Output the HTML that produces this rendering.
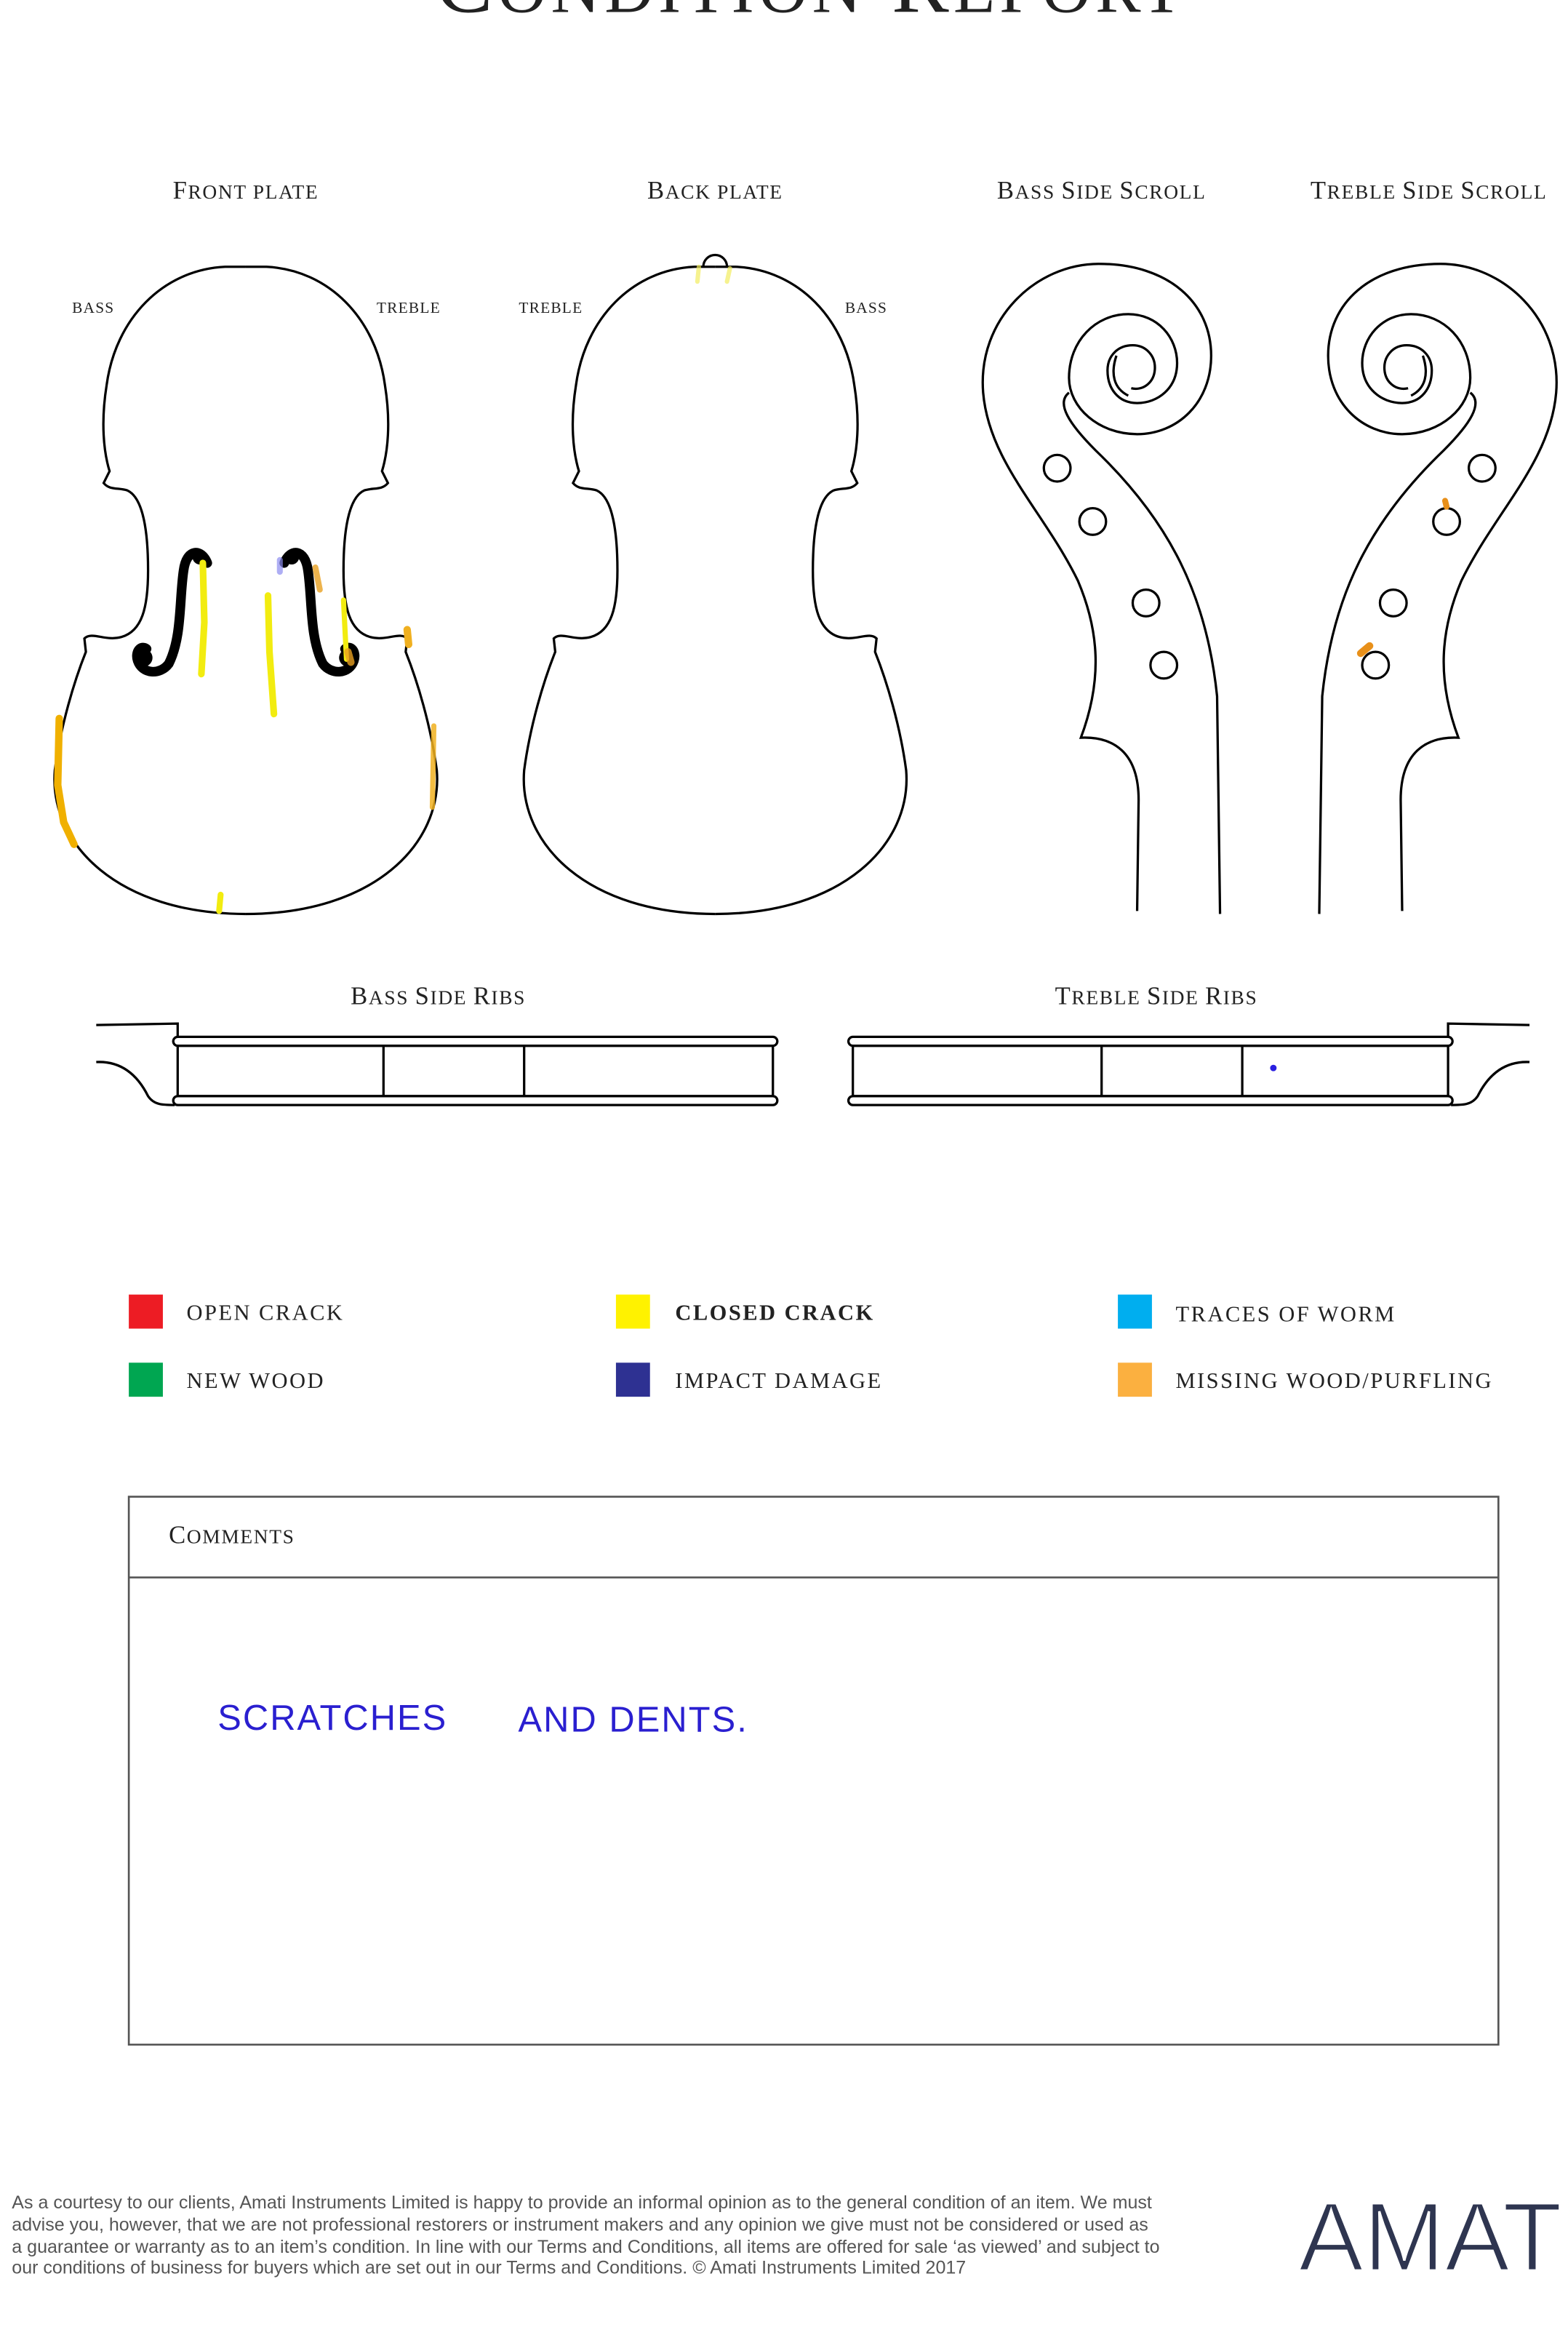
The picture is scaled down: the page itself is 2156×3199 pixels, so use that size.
<!DOCTYPE html>
<html><head><meta charset="utf-8"><style>
html,body{margin:0;padding:0;background:#fff;}
svg{display:block;}
.h{font-family:"Liberation Serif",serif;fill:#222;}
.lg{font-family:"Liberation Serif",serif;fill:#222;font-size:15px;letter-spacing:1.2px;}
.ol{fill:none;stroke:#000;stroke-width:1.6;}
</style></head><body>
<svg width="2156" height="3199" viewBox="0 0 1059 1571" xmlns="http://www.w3.org/2000/svg">
<defs>
<path id="halfbody" d="M166 180 L152 180 C110 182 78 215 72 260 C68 285 70 305 74 318 L70 326 C74 331 80 329 86 331 C97 336 100 360 100 385 C100 410 96 426 82 430 C71 433 62 426 57 431 L58 440 C50 460 41 490 37 520 C33 570 80 617 166 617"/>
<g id="body">
<use href="#halfbody" class="ol"/>
<use href="#halfbody" class="ol" transform="translate(332,0) scale(-1,1)"/>
</g>
<g id="scroll">
<path class="ol" d="M768 615 L769 540 C769 508 752 497 730 498 C745 458 742 425 728 392 C705 345 668 312 664 265 C660 215 700 178 742 178 C790 178 818 205 818 240 C818 272 795 293 768 293 C742 293 722 275 722 255 C722 230 740 212 762 212 C782 212 795 228 795 245 C795 262 782 272 768 272 C755 272 748 262 748 250 C748 240 755 233 765 233 C774 233 780 240 780 248 C780 258 772 264 764 262"/>
<path class="ol" d="M754 240 C750 252 752 262 762 267"/>
<path class="ol" d="M722 265 C713 272 722 286 740 304 C790 352 815 402 822 470 L824 617"/>
<circle class="ol" cx="714" cy="316" r="9"/>
<circle class="ol" cx="738" cy="352" r="9"/>
<circle class="ol" cx="774" cy="407" r="9"/>
<circle class="ol" cx="786" cy="449" r="9"/>
</g>
<g id="ribs">
<path class="ol" d="M65 692 L120 691 L120 700"/>
<path class="ol" d="M65 717 C85 716 95 730 100 740 C104 746 110 746 118 746"/>
<rect class="ol" x="117" y="700" width="408" height="6" rx="3"/>
<rect class="ol" x="117" y="740" width="408" height="6" rx="3"/>
<rect class="ol" x="120" y="706" width="402" height="34"/>
<line class="ol" x1="259" y1="706" x2="259" y2="740"/>
<line class="ol" x1="354" y1="706" x2="354" y2="740"/>
</g>
<path id="fh" d="M140 380 C136 370 126 370 124 385 C121 405 123 430 114 448 C108 456 96 455 93 446 C91 440 95 435 99 438"/>
</defs>

<text class="h" x="548" y="8" text-anchor="middle" font-size="58" letter-spacing="3">C<tspan font-size="46">ONDITION</tspan> R<tspan font-size="46">EPORT</tspan></text>

<g class="h" font-size="17" text-anchor="middle" letter-spacing="0.8">
<text x="166" y="134">F<tspan font-size="13.5">RONT PLATE</tspan></text>
<text x="483" y="134">B<tspan font-size="13.5">ACK PLATE</tspan></text>
<text x="744" y="134">B<tspan font-size="13.5">ASS </tspan>S<tspan font-size="13.5">IDE </tspan>S<tspan font-size="13.5">CROLL</tspan></text>
<text x="965" y="134">T<tspan font-size="13.5">REBLE </tspan>S<tspan font-size="13.5">IDE </tspan>S<tspan font-size="13.5">CROLL</tspan></text>
<text x="296" y="678">B<tspan font-size="13.5">ASS </tspan>S<tspan font-size="13.5">IDE </tspan>R<tspan font-size="13.5">IBS</tspan></text>
<text x="781" y="678">T<tspan font-size="13.5">REBLE </tspan>S<tspan font-size="13.5">IDE </tspan>R<tspan font-size="13.5">IBS</tspan></text>
</g>
<g class="h" font-size="10.5" text-anchor="middle" letter-spacing="0.6">
<text x="63" y="211">BASS</text><text x="276" y="211">TREBLE</text>
<text x="372" y="211">TREBLE</text><text x="585" y="211">BASS</text>
</g>

<use href="#body"/>
<use href="#body" transform="translate(317,0)"/>
<path class="ol" d="M475 180 A8 8 0 0 1 491 180"/>

<g fill="none" stroke="#000" stroke-width="6.5" stroke-linecap="round">
<use href="#fh"/>
<use href="#fh" transform="translate(332,0) scale(-1,1)"/>
</g>
<g fill="#000"><circle cx="135" cy="376" r="5"/><circle cx="197" cy="376" r="5"/><circle cx="97" cy="444" r="6"/><circle cx="235" cy="444" r="6"/></g>

<use href="#scroll"/>
<use href="#scroll" transform="translate(1715,0) scale(-1,1)"/>

<use href="#ribs"/>
<use href="#ribs" transform="translate(1098,0) scale(-1,1)"/>

<g fill="none" stroke-linecap="round">
<path d="M137 380 L138 420 L136 455" stroke="#f2ec10" stroke-width="4.5"/>
<path d="M181 402 L182 440 L185 482" stroke="#f2ec10" stroke-width="4.5"/>
<path d="M232 405 L234 445" stroke="#f2ec10" stroke-width="3.5"/>
<path d="M213 383 L216 398" stroke="#e8a020" stroke-width="4" opacity="0.8"/>
<path d="M235 440 L237 447" stroke="#e8a020" stroke-width="5" opacity="0.8"/>
<path d="M189 378 L189 386" stroke="#8c8cf0" stroke-width="4" opacity="0.7"/>
<path d="M40 485 L39 530 L43 555 L50 570" stroke="#f0b000" stroke-width="5"/>
<path d="M293 490 L292 545" stroke="#f0b020" stroke-width="3.5" opacity="0.85"/>
<path d="M275 425 L276 435" stroke="#f0b020" stroke-width="5"/>
<path d="M149 604 L148 615" stroke="#f2ec10" stroke-width="4"/>
<path d="M472 180 L471 190" stroke="#f2ec60" stroke-width="3" opacity="0.7"/>
<path d="M493 181 L491 190" stroke="#f2ec60" stroke-width="3" opacity="0.7"/>
<path d="M976 338 L977 342" stroke="#e8901a" stroke-width="4"/>
<path d="M919 441 L925 436" stroke="#e8901a" stroke-width="5"/>
</g>
<circle cx="860" cy="721" r="2.2" fill="#2a1fe0"/>

<rect x="87" y="874" width="23" height="23" fill="#ed1c24"/>
<rect x="416" y="874" width="23" height="23" fill="#fff200"/>
<rect x="755" y="874" width="23" height="23" fill="#00aeef"/>
<rect x="87" y="920" width="23" height="23" fill="#00a651"/>
<rect x="416" y="920" width="23" height="23" fill="#2e3192"/>
<rect x="755" y="920" width="23" height="23" fill="#fbb040"/>
<text class="lg" x="126" y="891">OPEN CRACK</text>
<text class="lg" x="456" y="891" font-weight="bold">CLOSED CRACK</text>
<text class="lg" x="794" y="892">TRACES OF WORM</text>
<text class="lg" x="126" y="937">NEW WOOD</text>
<text class="lg" x="456" y="937">IMPACT DAMAGE</text>
<text class="lg" x="794" y="937">MISSING WOOD/PURFLING</text>

<rect x="87" y="1010.5" width="925" height="370" fill="none" stroke="#555" stroke-width="1.3"/>
<line x1="87" y1="1065" x2="1012" y2="1065" stroke="#555" stroke-width="1.3"/>
<text class="h" x="114" y="1042" font-size="17" letter-spacing="0.8">C<tspan font-size="13.5">OMMENTS</tspan></text>
<text x="147" y="1168" font-family="'Liberation Sans',sans-serif" font-size="24" fill="#2a1fd0" letter-spacing="1">SCRATCHES</text>
<text x="350" y="1169" font-family="'Liberation Sans',sans-serif" font-size="24" fill="#2a1fd0" letter-spacing="1">AND DENTS.</text>

<g font-family="'Liberation Sans',sans-serif" font-size="12.3" fill="#555">
<text x="8" y="1491">As a courtesy to our clients, Amati Instruments Limited is happy to provide an informal opinion as to the general condition of an item. We must</text>
<text x="8" y="1506">advise you, however, that we are not professional restorers or instrument makers and any opinion we give must not be considered or used as</text>
<text x="8" y="1521">a guarantee or warranty as to an item’s condition. In line with our Terms and Conditions, all items are offered for sale ‘as viewed’ and subject to</text>
<text x="8" y="1535">our conditions of business for buyers which are set out in our Terms and Conditions. © Amati Instruments Limited 2017</text>
</g>
<text x="877" y="1533" font-family="'Liberation Sans',sans-serif" font-size="66" fill="#2e3550" stroke="#fff" stroke-width="1.6" paint-order="normal" textLength="178" lengthAdjust="spacingAndGlyphs">AMAT</text>
</svg>
</body></html>
